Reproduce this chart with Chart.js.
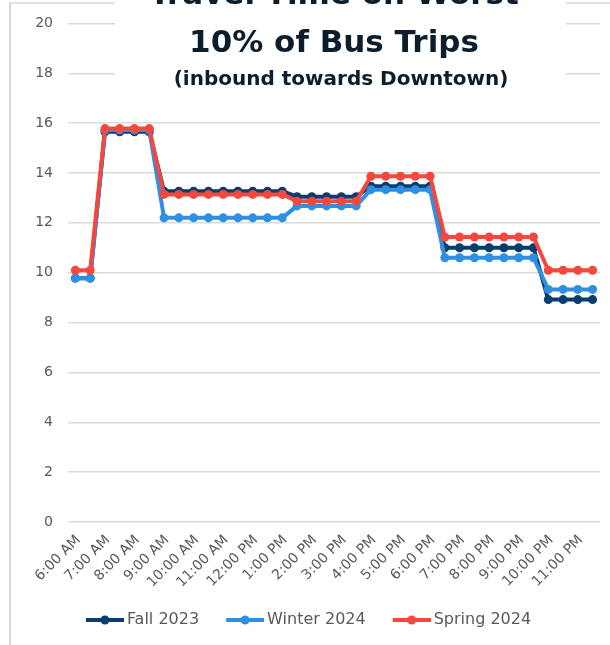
<!DOCTYPE html>
<html>
<head>
<meta charset="utf-8">
<script src="https://cdn.jsdelivr.net/npm/chart.js@4.4.1/dist/chart.umd.min.js"></script>
<style>
  html, body { margin: 0; padding: 0; background: #fff; }
  #frame { position: absolute; left: 9px; top: 2px; width: 620px; height: 660px;
           border-left: 2px solid #d6d6d6; border-top: 2px solid #e2e2e2; }
  #box { position: absolute; left: 0; top: 0; width: 610px; height: 645px; }
</style>
</head>
<body>
<div id="frame"></div>
<div id="box"><canvas id="travelChart" width="610" height="645"></canvas></div>
<script>
// half-hour buckets, every other one gets a tick label
const timeLabels = [
  '6:00 AM', '6:30 AM', '7:00 AM', '7:30 AM', '8:00 AM', '8:30 AM',
  '9:00 AM', '9:30 AM', '10:00 AM', '10:30 AM', '11:00 AM', '11:30 AM',
  '12:00 PM', '12:30 PM', '1:00 PM', '1:30 PM', '2:00 PM', '2:30 PM',
  '3:00 PM', '3:30 PM', '4:00 PM', '4:30 PM', '5:00 PM', '5:30 PM',
  '6:00 PM', '6:30 PM', '7:00 PM', '7:30 PM', '8:00 PM', '8:30 PM',
  '9:00 PM', '9:30 PM', '10:00 PM', '10:30 PM', '11:00 PM', '11:30 PM'
];

// travel time (minutes)
const fall2023 = [
  9.78, 9.78, 15.65, 15.65, 15.65, 15.65,
  13.27, 13.27, 13.27, 13.27, 13.27, 13.27, 13.27, 13.27, 13.27,
  13.05, 13.05, 13.05, 13.05, 13.05,
  13.47, 13.47, 13.47, 13.47, 13.47,
  11.0, 11.0, 11.0, 11.0, 11.0, 11.0, 11.0,
  8.92, 8.92, 8.92, 8.92
];
const winter2024 = [
  9.78, 9.78, 15.72, 15.72, 15.72, 15.72,
  12.2, 12.2, 12.2, 12.2, 12.2, 12.2, 12.2, 12.2, 12.2,
  12.68, 12.68, 12.68, 12.68, 12.68,
  13.33, 13.33, 13.33, 13.33, 13.33,
  10.6, 10.6, 10.6, 10.6, 10.6, 10.6, 10.6,
  9.33, 9.33, 9.33, 9.33
];
const spring2024 = [
  10.1, 10.1, 15.78, 15.78, 15.78, 15.78,
  13.14, 13.14, 13.14, 13.14, 13.14, 13.14, 13.14, 13.14, 13.14,
  12.87, 12.87, 12.87, 12.87, 12.87,
  13.87, 13.87, 13.87, 13.87, 13.87,
  11.43, 11.43, 11.43, 11.43, 11.43, 11.43, 11.43,
  10.1, 10.1, 10.1, 10.1
];

const seriesNames = ['Fall 2023', 'Winter 2024', 'Spring 2024'];
const seriesColors = ['#083d6e', '#2f8fe3', '#f4483e'];
const titleLines = ['Travel Time on Worst', '10% of Bus Trips', '(inbound towards Downtown)'];

const FONT = '"DejaVu Sans", sans-serif';
const GREY = '#595959';
Chart.defaults.font.family = FONT;
Chart.defaults.color = GREY;

// line-with-dot swatch for the legend (left part left blank as spacing)
function legendMarker(color) {
  const c = document.createElement('canvas');
  c.width = 60;
  c.height = 12;
  const g = c.getContext('2d');
  g.strokeStyle = color;
  g.lineWidth = 4;
  g.beginPath();
  g.moveTo(22, 6);
  g.lineTo(60, 6);
  g.stroke();
  g.fillStyle = color;
  g.beginPath();
  g.arc(41, 6, 4.5, 0, Math.PI * 2);
  g.fill();
  return c;
}
const markers = seriesColors.map(legendMarker);

// title sits in a white box on top of the plot
const titleBox = {
  id: 'titleBox',
  afterDraw(chart) {
    const ctx = chart.ctx;
    ctx.save();
    ctx.fillStyle = '#fff';
    ctx.fillRect(115, 0, 451, 100);
    ctx.fillStyle = '#0c1d2c';
    ctx.textAlign = 'center';
    ctx.textBaseline = 'alphabetic';
    ctx.font = 'bold 31px ' + FONT;
    ctx.fillText(titleLines[0], 334, 4);
    ctx.fillText(titleLines[1], 334, 52);
    ctx.font = 'bold 20px ' + FONT;
    ctx.fillText(titleLines[2], 341, 85);
    ctx.restore();
  }
};

const seriesData = [fall2023, winter2024, spring2024];

new Chart(document.getElementById('travelChart'), {
  type: 'line',
  data: {
    labels: timeLabels,
    datasets: seriesData.map((values, i) => ({
      label: seriesNames[i],
      data: values,
      borderColor: seriesColors[i],
      backgroundColor: seriesColors[i],
      pointBackgroundColor: seriesColors[i],
      pointBorderWidth: 0,
      pointRadius: 4.5,
      borderWidth: 4,
      borderJoinStyle: 'round',
      tension: 0,
      order: 2 - i
    }))
  },
  options: {
    responsive: false,
    animation: false,
    layout: { padding: { top: 22, right: 10, bottom: 7, left: 0 } },
    scales: {
      x: {
        offset: true,
        grid: { display: false },
        border: { display: false },
        afterFit: s => { s.height = 80; },
        ticks: {
          autoSkip: false,
          minRotation: 45,
          maxRotation: 45,
          padding: 2,
          labelOffset: 3,
          font: { size: 14 },
          callback: (v, i) => (i % 2 === 0 ? timeLabels[i] : '')
        }
      },
      y: {
        min: 0,
        max: 20,
        afterFit: s => { s.width = 68; },
        border: { display: false },
        grid: { color: '#dadada', lineWidth: 1.5, drawTicks: false },
        ticks: { stepSize: 2, padding: 15, font: { size: 14 } }
      }
    },
    plugins: {
      tooltip: { enabled: false },
      legend: {
        position: 'bottom',
        labels: {
          usePointStyle: true,
          pointStyleWidth: 50,
          padding: 10,
          color: GREY,
          font: { size: 16 },
          sort: (a, b) => a.datasetIndex - b.datasetIndex,
          generateLabels: chart =>
            Chart.defaults.plugins.legend.labels.generateLabels(chart).map(item =>
              Object.assign(item, { pointStyle: markers[item.datasetIndex] }))
        }
      }
    }
  },
  plugins: [titleBox]
});
</script>
</body>
</html>
